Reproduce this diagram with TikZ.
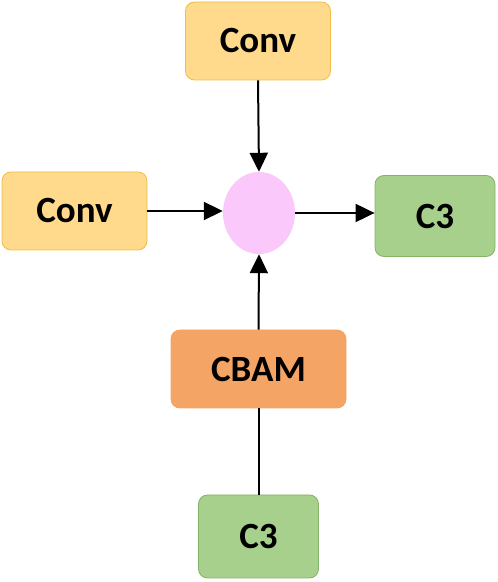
\documentclass[tikz,border=0pt]{standalone}
\usepackage{fontspec}
\setmainfont{Carlito}
\usepackage{xcolor}
\usetikzlibrary{shapes,arrows,arrows.meta,positioning,calc}
\definecolor{convFill}{RGB}{255,217,140}
\definecolor{convLine}{RGB}{240,190,70}
\definecolor{cthreeFill}{RGB}{168,208,141}
\definecolor{cthreeLine}{RGB}{130,179,102}
\definecolor{cbamFill}{RGB}{244,164,100}
\definecolor{addFill}{RGB}{250,200,250}

\tikzset{
  blockbox/.style={rectangle, rounded corners=9pt, line width=0.8pt, font=\bfseries\fontsize{37}{40}\selectfont, inner sep=0pt},
  convbox/.style={blockbox, draw=convLine, fill=convFill, minimum width=145pt, minimum height=78pt},
  cthreebox/.style={blockbox, draw=cthreeLine, fill=cthreeFill, minimum width=120pt, minimum height=81pt},
  cbambox/.style={blockbox, draw=cbamFill, fill=cbamFill, minimum width=175pt, minimum height=78pt},
  flow/.style={line width=2pt, -{Triangle[length=19pt,width=18pt]}}
}

\begin{document}
\begin{tikzpicture}[x=1pt, y=1pt]
    \useasboundingbox (0,0) rectangle (498,582);
    % blocks
    \node[convbox] (convTop) at (258,541) {Conv};
    \node[convbox] (convLeft) at (74.5,371) {Conv};
    \node[ellipse, fill=addFill, minimum width=72pt, minimum height=82pt, inner sep=0pt] (add) at (259,369) {};
    \node[cthreebox] (cthreeRight) at (435,366) {C3};
    \node[cbambox] (cbam) at (258.5,213) {CBAM};
    \node[cthreebox, minimum height=83pt] (cthreeBottom) at (258.5,45.5) {C3};
    % connectors
    \draw[flow] (convTop.south) -- (add.north);
    \draw[flow] (convLeft.east) -- (convLeft.east -| add.west);
    \draw[flow] (add.east) -- (add.east -| cthreeRight.west);
    \draw[flow] (cbam.north) -- (add.south);
    \draw[line width=2pt] (cthreeBottom.north) -- (cbam.south);
\end{tikzpicture}
\end{document}
